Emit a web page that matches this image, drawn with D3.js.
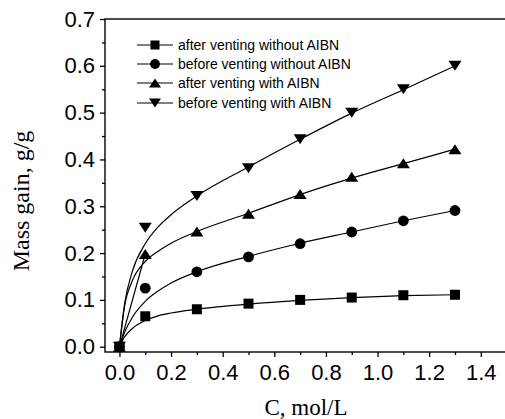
<!DOCTYPE html>
<html><head><meta charset="utf-8">
<script src="https://cdn.jsdelivr.net/npm/d3@7"></script>
<style>body{margin:0;background:#fff}svg{display:block}</style>
</head><body>
<svg id="c" width="505" height="419"></svg>
<script>
// data points
const xPoints = [0, 0.1, 0.3, 0.5, 0.7, 0.9, 1.1, 1.3];
const afterNoAIBN  = [0, 0.065, 0.080, 0.092, 0.100, 0.105, 0.110, 0.111];
const beforeNoAIBN = [0, 0.125, 0.160, 0.192, 0.220, 0.245, 0.269, 0.291];
const afterAIBN    = [0, 0.198, 0.246, 0.284, 0.326, 0.363, 0.392, 0.422];
const beforeAIBN   = [0, 0.254, 0.322, 0.381, 0.443, 0.500, 0.550, 0.600];
// fitted curves
const xFit = [0, 0.02, 0.05, 0.1, 0.15, 0.2, 0.3, 0.5, 0.7, 0.9, 1.1, 1.3];
const fitAfterNoAIBN  = [0, 0.021, 0.039, 0.056, 0.066, 0.072, 0.080, 0.091, 0.099, 0.105, 0.109, 0.111];
const fitBeforeNoAIBN = [0, 0.031, 0.063, 0.097, 0.119, 0.136, 0.160, 0.193, 0.221, 0.245, 0.269, 0.291];
const fitAfterAIBN    = [0, 0.087, 0.141, 0.182, 0.204, 0.221, 0.246, 0.285, 0.325, 0.360, 0.391, 0.422];
const fitBeforeAIBN   = [0, 0.092, 0.161, 0.220, 0.256, 0.282, 0.322, 0.384, 0.443, 0.499, 0.549, 0.600];
const seriesNames = ["after venting without AIBN","before venting without AIBN","after venting with AIBN","before venting with AIBN"];
const seriesShapes = ["square","circle","up","down"];
const xTicks = [0, 0.2, 0.4, 0.6, 0.8, 1.0, 1.2, 1.4];
const yTicks = [0, 0.1, 0.2, 0.3, 0.4, 0.5, 0.6, 0.7];

const series = [
  {name: seriesNames[0], shape: seriesShapes[0], pts: afterNoAIBN, fit: fitAfterNoAIBN},
  {name: seriesNames[1], shape: seriesShapes[1], pts: beforeNoAIBN, fit: fitBeforeNoAIBN},
  {name: seriesNames[2], shape: seriesShapes[2], pts: afterAIBN, fit: fitAfterAIBN},
  {name: seriesNames[3], shape: seriesShapes[3], pts: beforeAIBN, fit: fitBeforeAIBN}
];

const svg = d3.select("#c");
const L = 105, R = 506.6, T = 19, B = 352;
const x = d3.scaleLinear().domain([-0.056, 1.5]).range([L, R]);
const y = d3.scaleLinear().domain([-0.0113, 0.7]).range([B, T]);

function markerPath(shape, s) {
  if (shape === "square") return d3.symbol(d3.symbolSquare, s*s)();
  if (shape === "circle") return d3.symbol(d3.symbolCircle, Math.PI*(s/2+0.4)*(s/2+0.4))();
  const w = s + 3, h = s;
  if (shape === "up") return `M0,${-h/2}L${w/2},${h/2}L${-w/2},${h/2}Z`;
  return `M0,${h/2}L${w/2},${-h/2}L${-w/2},${-h/2}Z`;
}

// frame
svg.append("rect").attr("x", L).attr("y", T).attr("width", R - L).attr("height", B - T)
  .attr("fill", "none").attr("stroke", "#000").attr("stroke-width", 1.4);

// axes
const fontTick = "'Liberation Sans', Arial, sans-serif";
const xAx = svg.append("g").attr("transform", `translate(0,${B})`)
  .call(d3.axisBottom(x).tickValues(xTicks).tickFormat(d3.format(".1f")).tickSize(5).tickPadding(7));
const xMinor = svg.append("g").attr("transform", `translate(0,${B})`)
  .call(d3.axisBottom(x).tickValues(d3.range(0.1, 1.5, 0.2)).tickFormat("").tickSize(3));
const yAx = svg.append("g").attr("transform", `translate(${L},0)`)
  .call(d3.axisLeft(y).tickValues(yTicks).tickFormat(d3.format(".1f")).tickSize(5).tickPadding(5));
const yMinor = svg.append("g").attr("transform", `translate(${L},0)`)
  .call(d3.axisLeft(y).tickValues(d3.range(0.05, 0.7, 0.1)).tickFormat("").tickSize(3));
[xAx, xMinor, yAx, yMinor].forEach(g => {
  g.select(".domain").remove();
  g.selectAll("line").attr("stroke", "#000").attr("stroke-width", 1.3);
  g.selectAll("text").attr("font-family", fontTick).attr("font-size", 22).attr("fill", "#000");
});

// titles
svg.append("text").attr("x", 306).attr("y", 415).attr("text-anchor", "middle")
  .attr("font-family", "'Liberation Serif', 'Times New Roman', serif").attr("font-size", 23)
  .text("C, mol/L");
svg.append("text").attr("transform", "translate(29,201) rotate(-90)").attr("text-anchor", "middle")
  .attr("font-family", "'Liberation Serif', 'Times New Roman', serif").attr("font-size", 24)
  .text("Mass gain, g/g");

// fit curves
const line = d3.line().x(d => x(d[0])).y(d => y(d[1])).curve(d3.curveMonotoneX);
series.forEach(s => {
  svg.append("path").attr("d", line(xFit.map((v, i) => [v, s.fit[i]])))
    .attr("fill", "none").attr("stroke", "#000").attr("stroke-width", 1.2);
});
// straight segment from origin to first AIBN point
[series[2]].forEach(s => {
  svg.append("line").attr("x1", x(xPoints[0])).attr("y1", y(s.pts[0]))
    .attr("x2", x(xPoints[1])).attr("y2", y(s.pts[1]))
    .attr("stroke", "#000").attr("stroke-width", 1.2);
});

// markers
series.forEach(s => {
  svg.append("g").selectAll("path").data(xPoints.map((v, i) => [v, s.pts[i]])).join("path")
    .attr("transform", d => `translate(${x(d[0])},${y(d[1])})`)
    .attr("d", markerPath(s.shape, 10)).attr("fill", "#000");
});

// legend
const legY = [45, 64, 83, 103];
series.forEach((s, i) => {
  const g = svg.append("g").attr("transform", `translate(155,${legY[i]})`);
  g.append("line").attr("x1", -18).attr("x2", 18).attr("stroke", "#000").attr("stroke-width", 1.2);
  g.append("path").attr("d", markerPath(s.shape, 9)).attr("fill", "#000");
  g.append("text").attr("x", 23).attr("y", 5).attr("font-family", fontTick).attr("font-size", 14)
    .attr("fill", "#000").text(s.name);
});
</script>
</body></html>
